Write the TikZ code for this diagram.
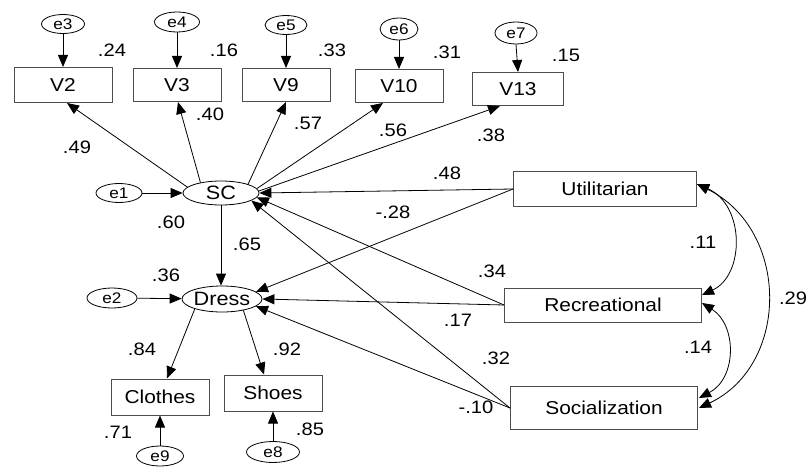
\documentclass[tikz,border=0pt]{standalone}
\usepackage{fontspec}
\setmainfont[FakeStretch=1.12]{Liberation Sans}
\usetikzlibrary{arrows.meta,calc,shapes.geometric}
\tikzset{
  box/.style={draw=black!70, line width=0.75pt, rectangle, inner sep=0pt, font=\fontsize{14}{16}\selectfont},
  lat/.style={draw=black, ellipse, inner sep=0pt, line width=0.6pt, font=\fontsize{14.5}{16}\selectfont},
  err/.style={draw=black, ellipse, inner sep=0pt, line width=0.6pt, font=\fontsize{11.5}{13}\selectfont},
  coef/.style={inner sep=0pt, font=\fontsize{13.5}{15}\selectfont},
  arr/.style={draw=black, line width=0.6pt, -{Triangle[length=9pt,width=7.5pt]}},
  cov/.style={draw=black, line width=0.6pt, {Triangle[length=9pt,width=7.5pt]}-{Triangle[length=9pt,width=7.5pt]}}
}
\begin{document}
\begin{tikzpicture}[x=0.75pt,y=-0.75pt]
\fill[white] (0,0) rectangle (809,467);
\useasboundingbox (0,0) rectangle (809,467);
% error terms, top
\node[err, minimum width=32.25pt, minimum height=14.25pt] (e3) at (63,24) {e3};
\node[err, minimum width=33.75pt, minimum height=15pt] (e4) at (177,22) {e4};
\node[err, minimum width=31.5pt, minimum height=14.25pt] (e5) at (286,25) {e5};
\node[err, minimum width=28.5pt, minimum height=16.5pt] (e6) at (399,29) {e6};
\node[err, minimum width=31.5pt, minimum height=16.5pt] (e7) at (516,33) {e7};
% indicators
\node[box, minimum width=73.5pt, minimum height=26.25pt] (V2) at (63,85) {V2};
\node[box, minimum width=66pt, minimum height=24.75pt] (V3) at (177,85) {V3};
\node[box, minimum width=66pt, minimum height=24.75pt] (V9) at (286,85) {V9};
\node[box, minimum width=66pt, minimum height=24.75pt] (V10) at (399,86) {V10};
\node[box, minimum width=68.25pt, minimum height=24.75pt] (V13) at (518,89) {V13};
% latent
\node[lat, minimum width=57pt, minimum height=18pt] (SC) at (221,193) {SC};
\node[err, minimum width=34.5pt, minimum height=14.25pt] (e1) at (119,193) {e1};
\node[lat, minimum width=57.75pt, minimum height=19.5pt] (Dress) at (222,299) {Dress};
\node[err, minimum width=37.5pt, minimum height=15pt] (e2) at (112,298) {e2};
% bottom
\node[box, minimum width=73.5pt, minimum height=27pt] (Clothes) at (160,397) {Clothes};
\node[box, minimum width=73.5pt, minimum height=27pt] (Shoes) at (273,393) {Shoes};
\node[err, minimum width=35.25pt, minimum height=15pt] (e9) at (160,456) {e9};
\node[err, minimum width=39.75pt, minimum height=15.75pt] (e8) at (273,452) {e8};
% exogenous
\node[box, minimum width=137.25pt, minimum height=26.25pt] (Util) at (605,189) {Utilitarian};
\node[box, minimum width=147.75pt, minimum height=25.5pt] (Rec) at (603,305) {Recreational};
\node[box, minimum width=140.25pt, minimum height=32.25pt] (Soc) at (604,408) {Socialization};

% error arrows
\draw[arr] (e3) -- (V2);
\draw[arr] (e4) -- (V3);
\draw[arr] (e5) -- (V9);
\draw[arr] (e6) -- (V10);
\draw[arr] (e7.south) -- (V13.north);
\draw[arr] (e1) -- (SC);
\draw[arr] (e2) -- (Dress);
\draw[arr] (e9) -- (Clothes);
\draw[arr] (e8) -- (Shoes);
% loadings of SC
\draw[arr] (SC.170) -- ($(V2.south)+(4,0)$);
\draw[arr] (SC.153) -- ($(V3.south)+(1,0)$);
\draw[arr] (SC.18) -- (V9.south);
\draw[arr] (SC.7) -- ($(V10.south)+(-16,0)$);
\draw[arr] (SC.3) -- ($(V13.south)+(-18,0)$);
% SC -> Dress
\draw[arr] (SC.south) -- (SC.south |- Dress.north);
% Dress -> indicators
\draw[arr] (Dress.200) -- ($(Clothes.north)+(7,0)$);
\draw[arr] (Dress.-28) -- ($(Shoes.north)+(-9,0)$);
% structural paths
\draw[arr] (Util.west) -- (SC.east);
\draw[arr] (Util.west) -- (Dress.12);
\draw[arr] (Rec.west) -- (SC.-7);
\draw[arr] (Rec.west) -- (Dress.east);
\draw[arr] (Soc.west) -- (SC.-14);
\draw[arr] (Soc.west) -- (Dress.-12);
% covariances
\draw[cov] ($(Util.east)+(0,-5)$) .. controls (745,205) and (745,275) .. ($(Rec.east)+(0,-10)$);
\draw[cov] ($(Rec.east)+(0,-2)$) .. controls (737,325) and (737,378) .. ($(Soc.east)+(1,-10)$);
\draw[cov] ($(Util.east)+(0,-5)$) .. controls (790,230) and (790,365) .. ($(Soc.east)+(1,0)$);

% coefficients
\node[coef] (r24) at (112,50) {.24};
\node[coef] (r16) at (224,50) {.16};
\node[coef] (r33) at (332,50) {.33};
\node[coef] (r31) at (447,52) {.31};
\node[coef] (r15) at (566,55) {.15};
\node[coef] (l49) at (77,147) {.49};
\node[coef] (l40) at (210,114) {.40};
\node[coef] (l57) at (308,123) {.57};
\node[coef] (l56) at (393,130) {.56};
\node[coef] (l38) at (491,135) {.38};
\node[coef] (r60) at (171,222) {.60};
\node[coef] (l65) at (247,244) {.65};
\node[coef] (r36) at (166,275) {.36};
\node[coef] (b48) at (447,173) {.48};
\node[coef] (b28) at (393,212) {-.28};
\node[coef] (b34) at (492,271) {.34};
\node[coef] (b17) at (458,320) {.17};
\node[coef] (b32) at (496,358) {.32};
\node[coef] (b10) at (476,407) {-.10};
\node[coef] (l84) at (142,349) {.84};
\node[coef] (l92) at (287,349) {.92};
\node[coef] (r71) at (118,432) {.71};
\node[coef] (r85) at (310,429) {.85};
\node[coef] (c11) at (703,242) {.11};
\node[coef] (c14) at (698,347) {.14};
\node[coef] (c29) at (793,298) {.29};
\end{tikzpicture}
\end{document}
